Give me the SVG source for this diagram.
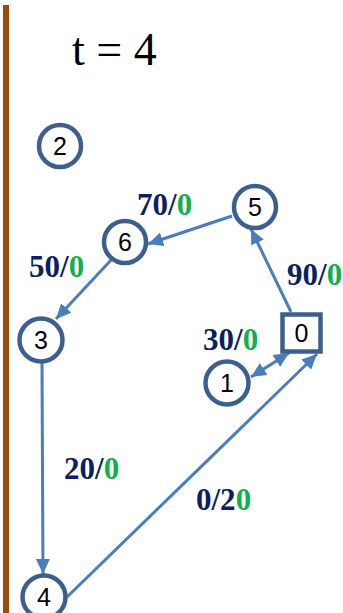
<svg xmlns="http://www.w3.org/2000/svg" width="343" height="613" viewBox="0 0 343 613">
<style>
.n{fill:#fff;stroke:#3d5f8d;stroke-width:4.5}
.nt{font-family:"Liberation Sans",Arial,sans-serif;font-size:25px;fill:#000;text-anchor:middle}
.e{stroke:#4a7dbd;stroke-width:3;fill:none}
.l{font-family:"Liberation Serif","Times New Roman",serif;font-weight:bold;font-size:31px;fill:#0a2060}
.g{fill:#11b04a}
</style>
<defs>
<marker id="ah" markerUnits="userSpaceOnUse" markerWidth="16" markerHeight="16" viewBox="0 0 16 16" refX="15" refY="8" orient="auto-start-reverse">
<path d="M0,1 L15,8 L0,15 Z" fill="#4a7dbd"/>
</marker>
</defs>
<rect x="3" y="5" width="6" height="608" fill="#9c4a0c"/>
<text x="72" y="65" font-family="'Liberation Serif','Times New Roman',serif" font-size="46" fill="#000">t = 4</text>
<g id="connectors">
<line class="e" x1="232" y1="216" x2="148" y2="244" marker-end="url(#ah)"/>
<line class="e" x1="291" y1="312" x2="251" y2="229" marker-end="url(#ah)"/>
<line class="e" x1="112" y1="259" x2="56" y2="319" marker-end="url(#ah)"/>
<line class="e" x1="42" y1="362" x2="43" y2="574" marker-end="url(#ah)"/>
<line class="e" x1="67" y1="597" x2="317" y2="354" marker-end="url(#ah)"/>
<line class="e" x1="251" y1="377" x2="289" y2="353" marker-start="url(#ah)" marker-end="url(#ah)"/>
</g>
<g id="labels">
<text class="l" x="137" y="215">70/<tspan class="g">0</tspan></text>
<text class="l" x="29" y="277">50/<tspan class="g">0</tspan></text>
<text class="l" x="287" y="285">90/<tspan class="g">0</tspan></text>
<text class="l" x="203" y="350">30/<tspan class="g">0</tspan></text>
<text class="l" x="64" y="479">20/<tspan class="g">0</tspan></text>
<text class="l" x="196" y="510">0/2<tspan class="g">0</tspan></text>
</g>
<g id="node2"><circle class="n" cx="60" cy="146" r="21"/><text class="nt" x="60" y="155">2</text></g>
<g id="node5"><circle class="n" cx="255" cy="207" r="21"/><text class="nt" x="255" y="216">5</text></g>
<g id="node6"><circle class="n" cx="125" cy="242" r="21"/><text class="nt" x="125" y="251">6</text></g>
<g id="node3"><circle class="n" cx="41" cy="340" r="21.5"/><text class="nt" x="41" y="349">3</text></g>
<g id="node0"><rect class="n" x="282.5" y="314.5" width="38" height="37" stroke-width="5"/><text class="nt" x="301.5" y="342">0</text></g>
<g id="node1"><circle class="n" cx="227" cy="383" r="21.5"/><text class="nt" x="227" y="392">1</text></g>
<g id="node4"><circle class="n" cx="44" cy="597" r="21.5"/><text class="nt" x="44" y="606">4</text></g>
</svg>
